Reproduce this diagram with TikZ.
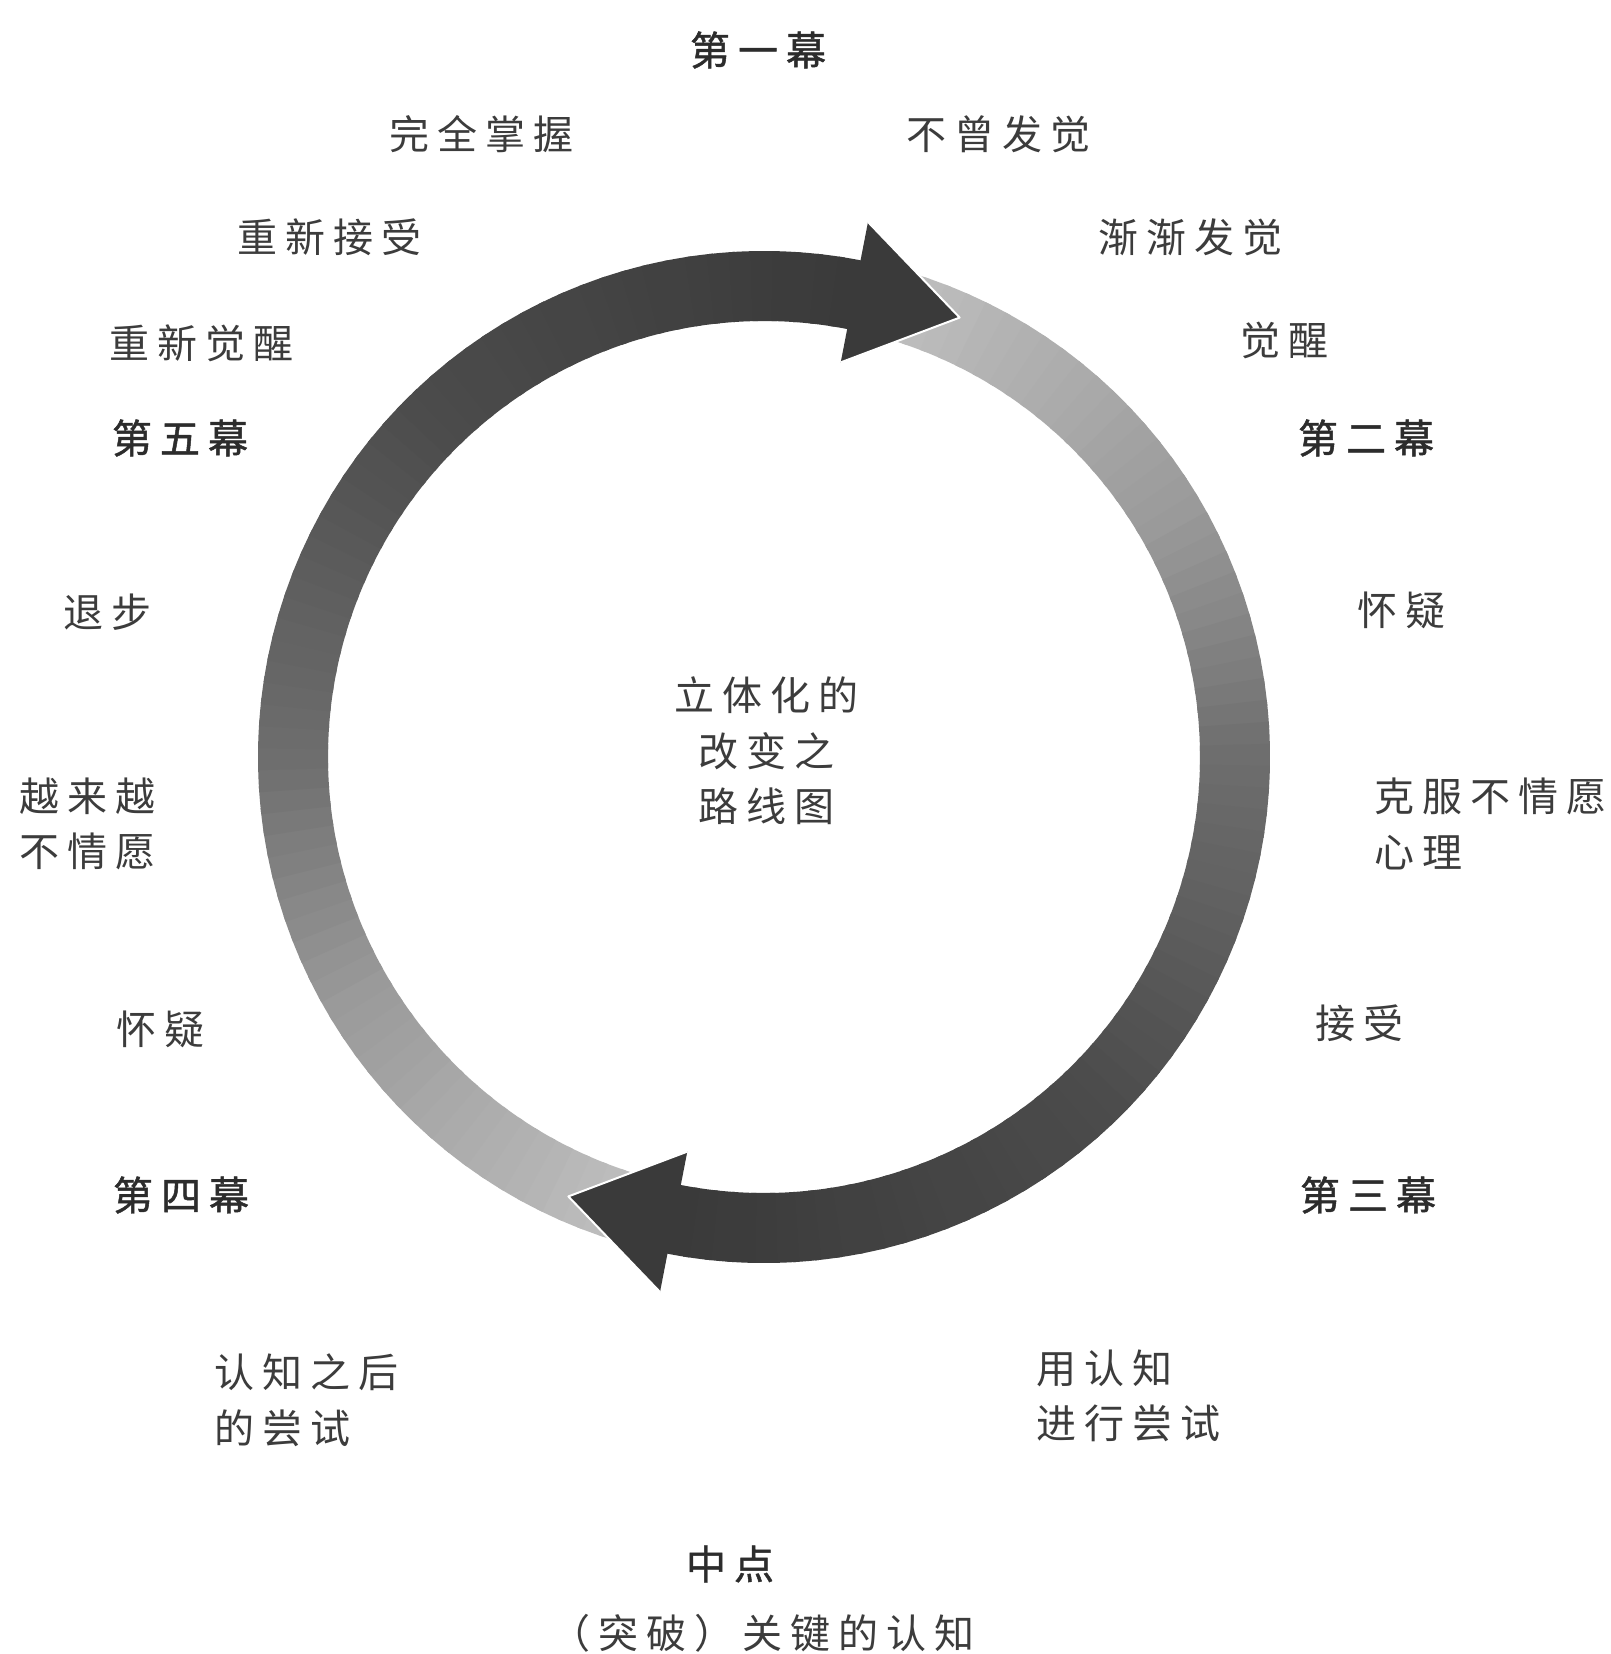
\documentclass[tikz,border=0pt]{standalone}
\usepackage{fontspec}
\newfontfamily\cjk{Noto Sans CJK SC}[LetterSpace=20,AutoFakeBold=1.2]
\definecolor{txt}{HTML}{3C3C3C}
\definecolor{txtb}{HTML}{2C2C2C}
\definecolor{headc}{HTML}{3A3A3A}
\begin{document}
\begin{tikzpicture}[x=0.5pt,y=-0.5pt,
  lab/.style={font=\cjk\fontsize{20}{27.75}\selectfont, text=txt, inner sep=0pt},
  act/.style={lab, font=\cjk\bfseries\fontsize{20}{27.75}\selectfont, text=txtb},
  headedge/.style={white, line width=1pt, line join=round}]
\useasboundingbox (0,0) rectangle (1611,1654);
\fill[white] (0,0) rectangle (1611,1654);
% ring with two gradient arrows
\begin{scope}[shift={(764,757)}, y=0.5pt]
  \foreach \s in {0,180}{
    \foreach \i in {0,...,69}{
      \pgfmathsetmacro\myf{\i/69}
      \pgfmathsetmacro\myv{(\myf<0.25) ? (190-148*\myf) : ((\myf<0.42) ? (153-(\myf-0.25)*253) : ((\myf<0.68) ? (110-(\myf-0.42)*131) : (76-(\myf-0.68)*56)))}
      \pgfmathsetmacro\myg{\myv/255}
      \pgfmathsetmacro\mya{254+\s-\i*2.5}
      \pgfmathsetmacro\myb{\mya-3.2}
      \definecolor{segc}{gray}{\myg}
      \fill[segc] (\mya:506) arc[start angle=\mya, end angle=\myb, radius=506]
        -- (\myb:436) arc[start angle=\myb, end angle=\mya, radius=436] -- cycle;
    }
  }
  \foreach \s in {0,180}{
    \fill[headc] ({79+\s}:402) -- ({79+\s}:545) -- ({66+\s}:481) -- cycle;
    \draw[headedge] ({79+\s}:545) -- ({66+\s}:481) -- ({79+\s}:402);
  }
\end{scope}
% labels
\node[act] (act1) at (758,50) {第一幕};
\node[lab] (wanquan) at (481,134) {完全掌握};
\node[lab] (buceng) at (998,134) {不曾发觉};
\node[lab] (chongjs) at (329,237) {重新接受};
\node[lab] (jianjian) at (1190,237) {渐渐发觉};
\node[lab] (chongjx) at (201,343) {重新觉醒};
\node[lab] (juexing) at (1284,340) {觉醒};
\node[act] (act5) at (180,438) {第五幕};
\node[act] (act2) at (1366,438) {第二幕};
\node[lab] (tuibu) at (107,612) {退步};
\node[lab] (huaiyiR) at (1401,610) {怀疑};
\node[lab, align=center] (title) at (766,751) {立体化的\\改变之\\路线图};
\node[lab, anchor=west, align=left] (yuelai) at (19,824) {越来越\\不情愿};
\node[lab, anchor=west, align=left] (kefu) at (1374,824) {克服不情愿\\心理};
\node[lab] (huaiyiL) at (160,1029) {怀疑};
\node[lab] (jieshou) at (1359,1023) {接受};
\node[act] (act4) at (181,1195) {第四幕};
\node[act] (act3) at (1368,1195) {第三幕};
\node[lab, anchor=west, align=left] (renzhihou) at (214,1400) {认知之后\\的尝试};
\node[lab, anchor=west, align=left] (yongrenzhi) at (1036,1396) {用认知\\进行尝试};
\node[act] (mid) at (730,1564) {中点};
\node[lab] (tupo) at (762,1633) {（突破）关键的认知};
\end{tikzpicture}
\end{document}
